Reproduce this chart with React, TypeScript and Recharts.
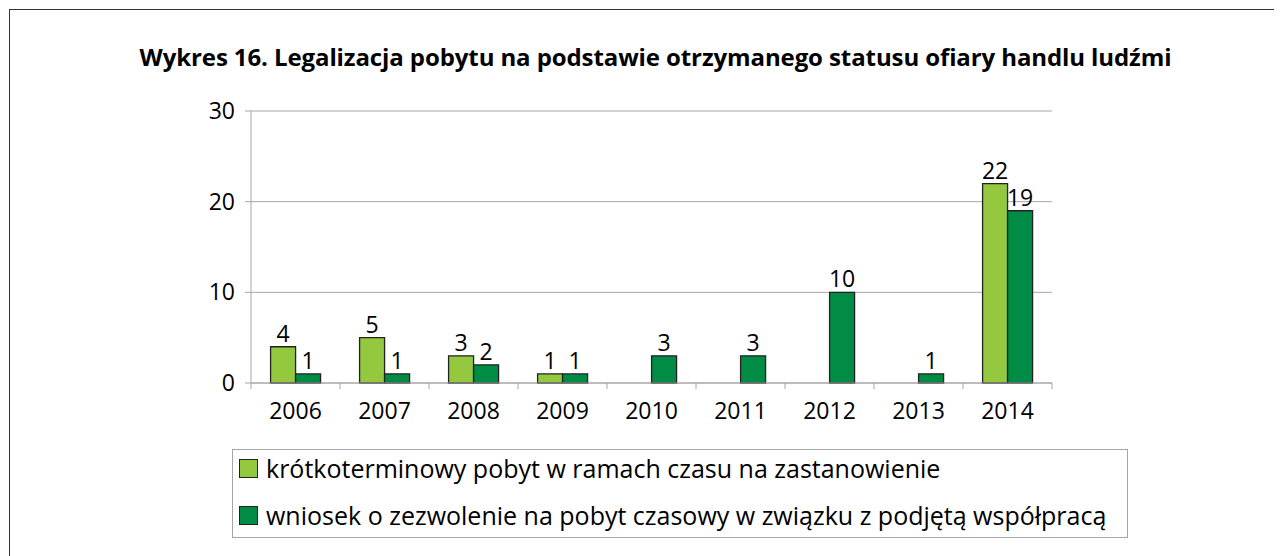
import { Bar, BarChart, CartesianGrid, LabelList, XAxis, YAxis } from "recharts";

const years = ["2006", "2007", "2008", "2009", "2010", "2011", "2012", "2013", "2014"];
// krótkoterminowy pobyt - no bar drawn for 2010-2013
const shortStay = [4, 5, 3, 1, null, null, null, null, 22];
const permitRequest = [1, 1, 2, 1, 3, 3, 10, 1, 19];
const yTicks = [0, 10, 20, 30];

const seriesNames = [
  "krótkoterminowy pobyt w ramach czasu na zastanowienie",
  "wniosek o zezwolenie na pobyt czasowy w związku z podjętą współpracą",
];
const LIGHT = "#93c83f";
const DARK = "#008c44";
const AXIS = "#a6a6a6";
const FONT = "'Open Sans', sans-serif";
const TICK_SIZE = 6;
const TICK_MARGIN = 14;

const rows = years.map((year, i) => ({ year, a: shortStay[i], b: permitRequest[i] }));

// Year label, plus the tick mark on the category boundary (Excel style) rather than its centre.
function YearTick(props: any) {
  const { x, y, payload, index, visibleTicksCount } = props;
  const half = payload?.offset ?? 0;
  const top = y - TICK_MARGIN - TICK_SIZE;
  const bottom = y - TICK_MARGIN;
  return (
    <g>
      <line x1={x - half} x2={x - half} y1={top} y2={bottom} stroke={AXIS} />
      {index === visibleTicksCount - 1 && <line x1={x + half} x2={x + half} y1={top} y2={bottom} stroke={AXIS} />}
      <text x={x} y={y} dy="0.71em" textAnchor="middle" fill="#000" fontSize={23} fontFamily={FONT}>
        {payload.value}
      </text>
    </g>
  );
}

function LegendBox() {
  const colors = [LIGHT, DARK];
  return (
    <div
      style={{
        position: "absolute",
        left: 222,
        top: 439,
        width: 896,
        height: 89,
        boxSizing: "border-box",
        border: `1px solid ${AXIS}`,
        padding: "3px 0 0 6px",
        fontFamily: FONT,
        fontSize: 25,
        color: "#000",
      }}
    >
      {seriesNames.map((name, i) => (
        <div key={name} style={{ display: "flex", alignItems: "center", height: 30, marginBottom: i === 0 ? 17 : 0 }}>
          <span
            style={{
              display: "inline-block",
              width: 17,
              height: 17,
              background: colors[i],
              border: "1px solid #222",
              marginRight: 8,
            }}
          />
          <span style={{ whiteSpace: "nowrap" }}>{name}</span>
        </div>
      ))}
    </div>
  );
}

export default function App() {
  return (
    <div
      style={{
        position: "relative",
        marginLeft: 1,
        marginTop: 1,
        width: 1271,
        height: 560,
        boxSizing: "border-box",
        border: "1px solid #333",
        background: "#fff",
      }}
    >
      <div
        style={{
          position: "absolute",
          top: 30,
          left: 11,
          width: 1269,
          textAlign: "center",
          fontFamily: FONT,
          fontWeight: 700,
          fontSize: 24,
          letterSpacing: -0.1,
          color: "#000",
          whiteSpace: "nowrap",
        }}
      >
        Wykres 16. Legalizacja pobytu na podstawie otrzymanego statusu ofiary handlu ludźmi
      </div>
      <BarChart
        width={1269}
        height={540}
        data={rows}
        margin={{ top: 101, right: 227, left: 0, bottom: 107 }}
        barCategoryGap="22%"
        barGap={0}
      >
        <CartesianGrid stroke={AXIS} vertical={false} />
        <XAxis
          dataKey="year"
          stroke={AXIS}
          tickLine={false}
          tickSize={TICK_SIZE}
          tickMargin={TICK_MARGIN}
          height={60}
          interval={0}
          tick={<YearTick />}
        />
        <YAxis
          width={241}
          domain={[0, 30]}
          ticks={yTicks}
          stroke={AXIS}
          tickSize={6}
          tickMargin={10}
          tick={{ fill: "#000", fontSize: 23, fontFamily: FONT }}
        />
        <Bar dataKey="a" name={seriesNames[0]} fill={LIGHT} stroke="#222" strokeWidth={1.3} isAnimationActive={false}>
          <LabelList dataKey="a" position="top" offset={5} fill="#000" fontSize={23} fontFamily={FONT} />
        </Bar>
        <Bar dataKey="b" name={seriesNames[1]} fill={DARK} stroke="#222" strokeWidth={1.3} isAnimationActive={false}>
          <LabelList dataKey="b" position="top" offset={5} fill="#000" fontSize={23} fontFamily={FONT} />
        </Bar>
      </BarChart>
      <LegendBox />
    </div>
  );
}
